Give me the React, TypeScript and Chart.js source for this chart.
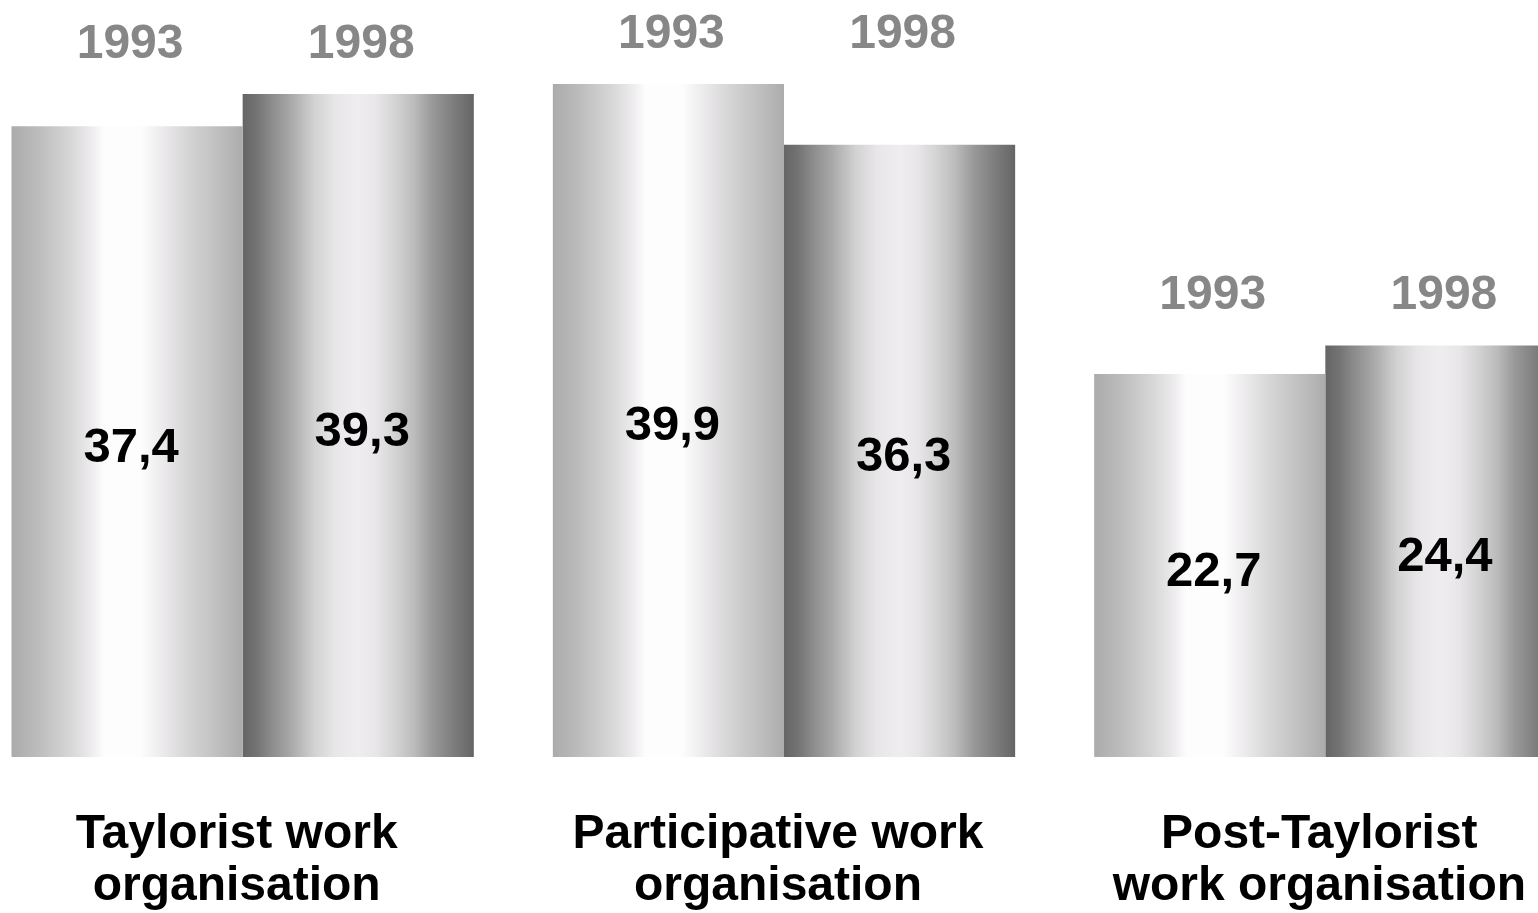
import React, { useEffect, useRef } from "react";
import { Chart, registerables } from "chart.js";

Chart.register(...registerables);

// Work organisation types, each split over two survey years
const categories: string[][] = [
  ["Taylorist work", "organisation"],
  ["Participative work", "organisation"],
  ["Post-Taylorist", "work organisation"],
];
const years = ["1993", "1998"];
const values1993 = [37.4, 39.9, 22.7];
const values1998 = [39.3, 36.3, 24.4];

const Y_MAX = 44.88;
const CATEGORY_PCT = 0.854;
const FONT = '"Liberation Sans", Arial, Helvetica, sans-serif';
const CAPTION_SIZE = 48;
const VALUE_SIZE = 49;

// Cylinder-like shading stops for each series
const lightStops: [number, string][] = [
  [0, "#ababab"],
  [0.12, "#bdbdbd"],
  [0.25, "#d6d6d6"],
  [0.34, "#eceaec"],
  [0.4, "#fdfdfd"],
  [0.56, "#fdfdfd"],
  [0.66, "#ebe9eb"],
  [0.78, "#d2d2d2"],
  [0.9, "#bebebe"],
  [1, "#acacac"],
];
const darkStops: [number, string][] = [
  [0, "#656565"],
  [0.06, "#737373"],
  [0.12, "#8a8a8a"],
  [0.21, "#a9a9a9"],
  [0.31, "#d2d2d2"],
  [0.4, "#e8e6e8"],
  [0.5, "#efedef"],
  [0.58, "#e8e6e8"],
  [0.65, "#d6d6d6"],
  [0.74, "#bcbcbc"],
  [0.82, "#999999"],
  [0.91, "#7e7e7e"],
  [1, "#656565"],
];

const fmt = (v: number) => v.toFixed(1).replace(".", ",");

function barFill(stops: [number, string][], fallback: string) {
  return (c: any) => {
    const chart = c.chart;
    const area = chart.chartArea;
    const xs = chart.scales?.x;
    if (!area || !xs || c.dataIndex === undefined) return fallback;
    const catWidth = (area.right - area.left) / categories.length;
    const groupWidth = catWidth * CATEGORY_PCT;
    const barWidth = groupWidth / 2;
    const center = xs.getPixelForValue(c.dataIndex);
    const left = center - groupWidth / 2 + c.datasetIndex * barWidth;
    const g = chart.ctx.createLinearGradient(left, 0, left + barWidth, 0);
    stops.forEach(([o, col]) => g.addColorStop(o, col));
    return g;
  };
}

const labelPlugin = {
  id: "barLabels",
  afterDatasetsDraw(chart: any) {
    const ctx = chart.ctx as CanvasRenderingContext2D;
    const area = chart.chartArea;
    const metas = [chart.getDatasetMeta(0), chart.getDatasetMeta(1)];
    ctx.save();
    ctx.textAlign = "center";
    ctx.textBaseline = "alphabetic";

    // value inside each bar
    ctx.font = `bold ${VALUE_SIZE}px ${FONT}`;
    metas.forEach((meta, di) => {
      const data = chart.data.datasets[di].data as number[];
      meta.data.forEach((el: any, i: number) => {
        const { x, y, base } = el.getProps(["x", "y", "base"], true);
        ctx.fillStyle = "#000000";
        ctx.fillText(fmt(data[i]), x + 4, (y + base) / 2 + 20);
      });
    });

    // year captions above each pair
    ctx.font = `bold ${CAPTION_SIZE}px ${FONT}`;
    categories.forEach((_, i) => {
      const top = Math.min(...metas.map((m) => m.data[i].y));
      metas.forEach((m, di) => {
        ctx.fillStyle = "#878787";
        ctx.fillText(years[di], m.data[i].x + 3, top - 36);
      });
    });

    // category names under the bars
    const xs = chart.scales.x;
    ctx.fillStyle = "#000000";
    categories.forEach((lines, i) => {
      const cx = xs.getPixelForValue(i) - 6;
      lines.forEach((line, li) => {
        ctx.fillText(line, cx, area.bottom + 91 + li * 52);
      });
    });
    ctx.restore();
  },
};

export default function App() {
  const canvasRef = useRef<HTMLCanvasElement | null>(null);

  useEffect(() => {
    if (!canvasRef.current) return;
    const chart = new Chart(canvasRef.current, {
      type: "bar",
      data: {
        labels: categories.map((c) => c.join(" ")),
        datasets: [
          {
            label: years[0],
            data: values1993,
            backgroundColor: barFill(lightStops, "#d0d0d0"),
            borderWidth: 0,
            barPercentage: 1,
            categoryPercentage: CATEGORY_PCT,
          },
          {
            label: years[1],
            data: values1998,
            backgroundColor: barFill(darkStops, "#a0a0a0"),
            borderWidth: 0,
            barPercentage: 1,
            categoryPercentage: CATEGORY_PCT,
          },
        ],
      },
      options: {
        animation: false,
        responsive: true,
        maintainAspectRatio: false,
        layout: { padding: { top: 0, left: 0, right: 0, bottom: 156 } },
        plugins: {
          legend: { display: false },
          tooltip: { enabled: false },
        },
        scales: {
          x: { display: false },
          y: { display: false, min: 0, max: Y_MAX },
        },
      },
      plugins: [labelPlugin],
    });
    return () => chart.destroy();
  }, []);

  return (
    <div
      style={{
        position: "fixed",
        left: 0,
        top: 0,
        width: 1538,
        height: 913,
        overflow: "hidden",
        background: "#ffffff",
      }}
    >
      <div style={{ position: "absolute", left: -28, top: 0, width: 1624, height: 913 }}>
        <canvas ref={canvasRef} />
      </div>
    </div>
  );
}
